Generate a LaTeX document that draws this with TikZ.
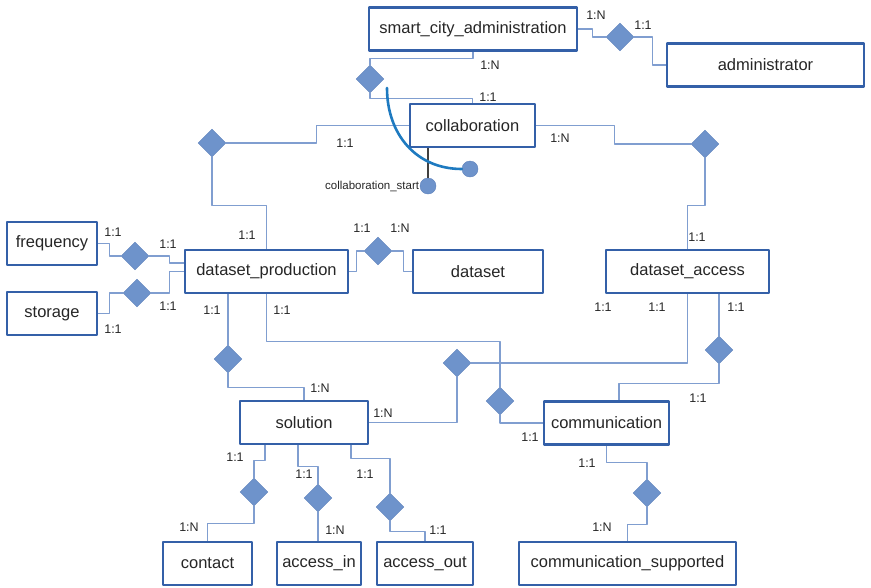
\documentclass[tikz,border=0pt]{standalone}
\usepackage{fontspec}
\setmainfont{Liberation Sans}
\usetikzlibrary{shapes.geometric,positioning}
\definecolor{boxblue}{RGB}{52,96,168}
\definecolor{linkblue}{RGB}{128,158,208}
\definecolor{relfill}{RGB}{110,147,203}
\definecolor{reledge}{RGB}{95,130,188}
\definecolor{curveblue}{RGB}{30,122,192}
\definecolor{txt}{RGB}{38,38,38}
\tikzset{
	entity/.style={draw=boxblue, line width=2.6pt, fill=white, minimum height=43pt, inner sep=0pt, text=txt, font=\fontsize{16.5}{18}\selectfont},
	rel/.style={diamond, aspect=1, draw=reledge, line width=0.4pt, fill=relfill, minimum size=28pt, inner sep=0pt},
	link/.style={draw=linkblue, line width=1.2pt},
	card/.style={text=txt, font=\fontsize{12.5}{14}\selectfont, inner sep=0pt},
	attr/.style={circle, fill=relfill, draw=reledge, line width=0.4pt, minimum size=16pt, inner sep=0pt},
}
\begin{document}
\begin{tikzpicture}[x=1pt, y=-1pt, line join=round]
	\useasboundingbox (0,0) rectangle (871,587);
	% entities
	\node[entity, minimum width=208] (sca) at (473,29) {smart\_city\_administration};
	\node[entity, minimum width=197] (admin) at (765.5,65) {administrator};
	\node[entity, minimum width=125] (collab) at (472.5,125.5) {collaboration};
	\node[entity, minimum width=90] (freq) at (52,243.5) {frequency};
	\node[entity, minimum width=90] (stor) at (52,313.5) {storage};
	\node[entity, minimum width=163] (prod) at (266.5,271.5) {dataset\_production};
	\node[entity, minimum width=130] (dset) at (478,271.5) {dataset};
	\node[entity, minimum width=163] (acc) at (687.5,271.5) {dataset\_access};
	\node[entity, minimum width=128] (sol) at (304,422.5) {solution};
	\node[entity, minimum width=125] (comm) at (606.5,423) {communication};
	\node[entity, minimum width=89] (contact) at (207.5,563.5) {contact};
	\node[entity, minimum width=84] (accin) at (319,563.5) {access\_in};
	\node[entity, minimum width=96] (accout) at (425,563.5) {access\_out};
	\node[entity, minimum width=217] (csup) at (627.5,563.5) {communication\_supported};
	% relationships
	\foreach \n/\x/\y in {rAdm/620/37, rColl/370/79, rProd/212/143, rAcc/705/144,
		rFreq/135/256, rStor/137/293, rData/378/251, rSol/228/359, rSolAcc/457/363,
		rComm/500/401, rAccComm/719/350, rContact/254/492, rIn/318/498, rOut/390/507,
		rSup/647/493}{
		\node[rel] (\n) at (\x,\y) {};
	}
	% connectors
	\draw[link] (sca.east) -- ++(14,0) |- (rAdm.west);
	\draw[link] (rAdm.east) -- ++(18,0) |- (admin.west);
	\draw[link] (sca.south) -- ++(0,7) -| (rColl.north);
	\draw[link] (rColl.south) -- ++(0,5) -| (collab.north);
	\draw[link] (collab.west) -- ++(-92,0) |- (rProd.east);
	\draw[link] (rProd.south) -- ++(0,48) -| (prod.north);
	\draw[link] (collab.east) -- ++(78,0) |- (rAcc.west);
	\draw[link] (rAcc.south) -- ++(0,47) -| (acc.north);
	\draw[link] (freq.east) -- ++(11,0) |- (rFreq.west);
	\draw[link] (rFreq.east) -- ++(20,0) |- ([yshift=8.5pt]prod.west);
	\draw[link] (stor.east) -- ++(11,0) |- (rStor.west);
	\draw[link] (rStor.east) -- ++(18,0) |- (prod.west);
	\draw[link] (prod.east) -- ++(7,0) |- (rData.west);
	\draw[link] (rData.east) -- ++(11,0) |- (dset.west);
	\draw[link] (rSol.north) -- (rSol.north |- prod.south);
	\draw[link] (rSol.south) -- ++(0,14.5) -| (sol.north);
	\draw[link] (prod.south) -- ++(0,47) -| (rComm.north);
	\draw[link] (rComm.south) |- (comm.west);
	\draw[link] (sol.east) -| (rSolAcc.south);
	\draw[link] (rSolAcc.east) -| (acc.south);
	\draw[link] (rAccComm.north) -- (rAccComm.north |- acc.south);
	\draw[link] (rAccComm.south) -- ++(0,19.5) -| ([xshift=12.5pt]comm.north);
	\draw[link] (comm.south) -- ++(0,17) -| (rSup.north);
	\draw[link] (rSup.south) -- ++(0,17.5) -| (csup.north);
	\draw[link] ([xshift=-39pt]sol.south) -- ++(0,15) -| (rContact.north);
	\draw[link] (rContact.south) -- ++(0,17.5) -| (contact.north);
	\draw[link] ([xshift=-6pt]sol.south) -- ++(0,21) -| (rIn.north);
	\draw[link] (rIn.south) -- (rIn.south |- accin.north);
	\draw[link] ([xshift=47pt]sol.south) -- ++(0,13) -| (rOut.north);
	\draw[link] (rOut.south) -- ++(0,10.5) -| (accout.north);
	% attribute and its constraint arc
	\node[attr] (cStart) at (428,186) {};
	\node[attr] (cEnd) at (470,169) {};
	\node[text=txt, font=\fontsize{11.5}{13}\selectfont, inner sep=0pt, left=0.5pt of cStart] (cStartLbl) {collaboration\_start};
	\draw[line width=1.3pt, draw=black!75] (cStart.north) -- (cStart.north |- collab.south);
	\coordinate (arcStart) at (387,88);
	\draw[line width=2.6pt, draw=curveblue, line cap=round] (arcStart) .. controls (387,134) and (416,169) .. (cEnd.west);
	% cardinalities
	\foreach \x/\y/\lab [count=\i] in {596/15/1:N, 643/25/1:1, 490/65/1:N, 488/97/1:1,
		345/143/1:1, 560/138/1:N, 247/235/1:1, 697/237/1:1, 113/232/1:1, 168/244/1:1,
		168/306/1:1, 113/329/1:1, 362/228/1:1, 400/228/1:N, 212/310/1:1, 282/310/1:1,
		603/307/1:1, 657/307/1:1, 736/307/1:1, 320/388/1:N, 383/413/1:N, 530/437/1:1,
		698/398/1:1, 235/457/1:1, 189/527/1:N, 304/474/1:1, 335/530/1:N, 365/474/1:1,
		438/530/1:1, 587/463/1:1, 602/527/1:N}{
		\node[card] (card\i) at (\x,\y) {\lab};
	}
\end{tikzpicture}
\end{document}
